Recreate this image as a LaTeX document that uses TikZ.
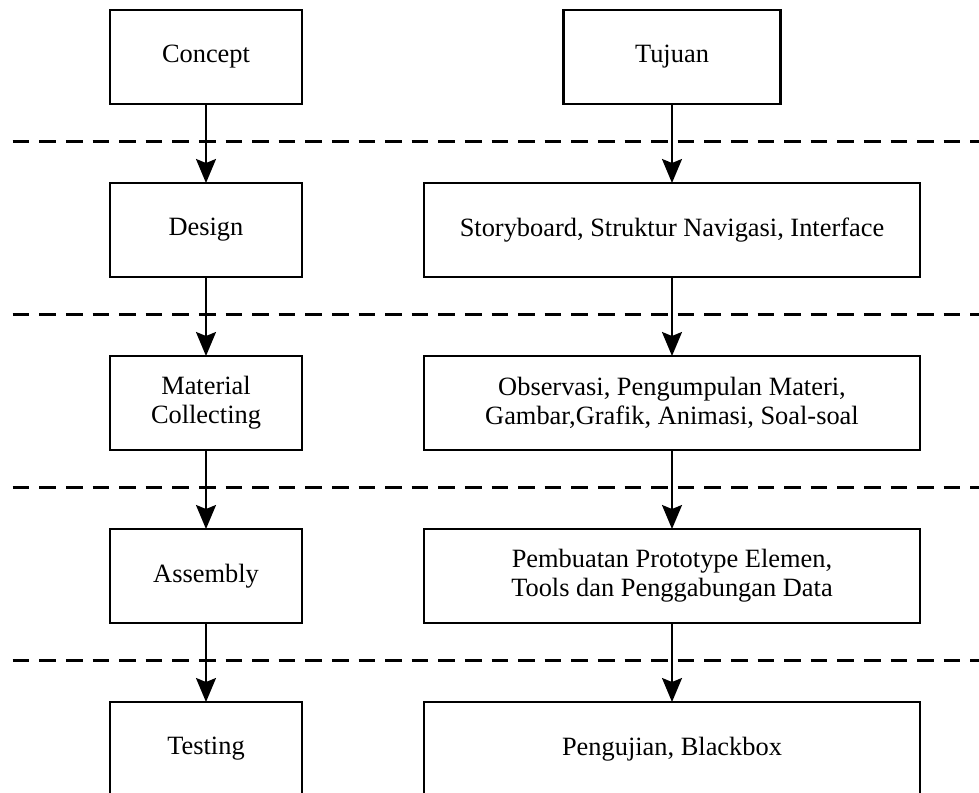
\documentclass[tikz,border=0pt]{standalone}
\usepackage{fontspec}
\setmainfont{Liberation Serif}
\usetikzlibrary{arrows.meta,positioning,calc}

\begin{document}
\begin{tikzpicture}[x=0.5pt, y=-0.5pt, node distance=39.5pt and 61pt,
  every node/.style = {shape=rectangle, draw, align=center,
    line width=1.35pt, outer sep=0pt, minimum height=47pt,
    font=\fontsize{13.2}{14.5}\selectfont},
  stage/.style = {minimum width=96pt},
  task/.style = {minimum width=248pt},
  flow/.style = {line width=1pt, -{Stealth[length=12pt,width=10pt,inset=2pt]}},
  divider/.style = {line width=1.5pt, dash pattern=on 8.3pt off 5pt}]
  \useasboundingbox (0,0) rectangle (979,792);
  % left column
  \node[stage] (concept) at (206,57) {Concept};
  \node[stage, below=of concept] (design) {Design};
  \node[stage, below=of design] (material) {Material\\Collecting};
  \node[stage, below=of material] (assembly) {Assembly};
  \node[stage, below=of assembly] (testing) {Testing};
  % right column
  \node[task, right=of design] (storyboard) {Storyboard, Struktur Navigasi, Interface};
  \node[minimum width=108.5pt, above=of storyboard] (tujuan) {Tujuan};
  \node[task, below=of storyboard] (observasi) {Observasi, Pengumpulan Materi,\\Gambar,Grafik, Animasi, Soal-soal};
  \node[task, below=of observasi] (pembuatan) {Pembuatan Prototype Elemen,\\Tools dan Penggabungan Data};
  \node[task, below=of pembuatan] (pengujian) {Pengujian, Blackbox};
  % dashed separators
  \foreach \a/\b in {concept/design, design/material, material/assembly, assembly/testing}
    \draw[divider] let \p1 = ($(\a.south)!0.47!(\b.north)$) in (12.7,\y1) -- (979,\y1);
  % arrows
  \foreach \a/\b in {concept/design, design/material, material/assembly, assembly/testing,
    tujuan/storyboard, storyboard/observasi, observasi/pembuatan, pembuatan/pengujian}
    \draw[flow] (\a) -- (\b);
\end{tikzpicture}
\end{document}
